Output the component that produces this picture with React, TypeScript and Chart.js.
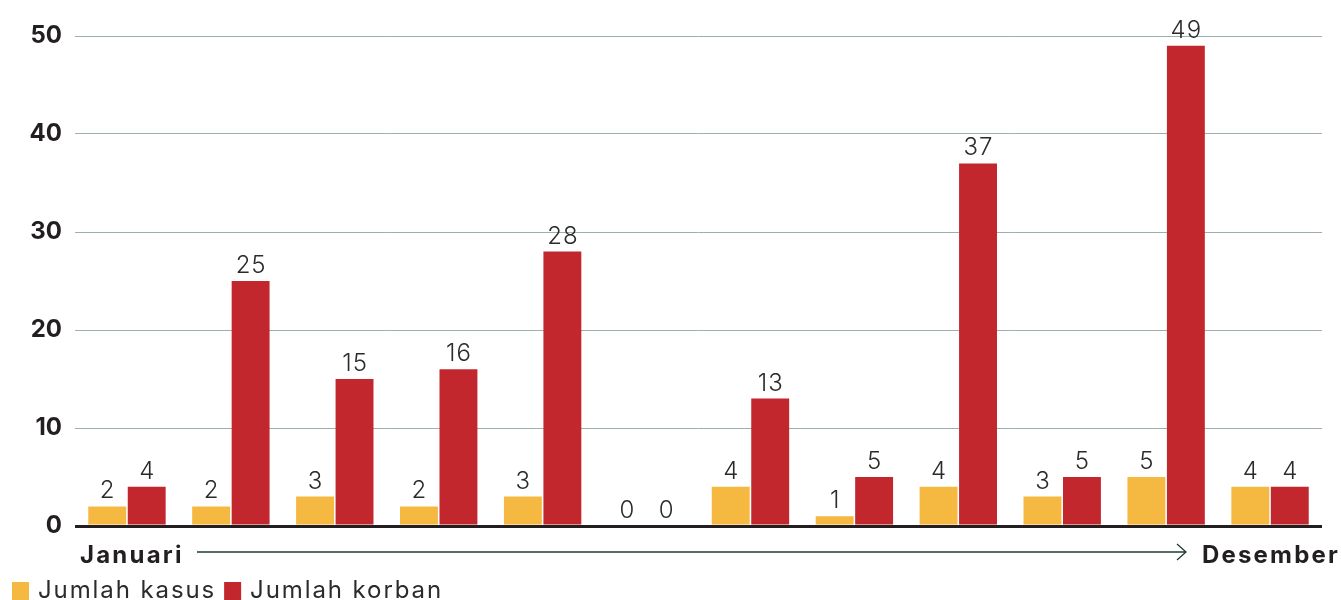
import React, { useEffect, useRef } from "react";
import { Chart, registerables } from "chart.js";

Chart.register(...registerables);

const months = ["Jan", "Feb", "Mar", "Apr", "Mei", "Jun", "Jul", "Agu", "Sep", "Okt", "Nov", "Des"];
const jumlahKasus = [2, 2, 3, 2, 3, 0, 4, 1, 4, 3, 5, 4];
const jumlahKorban = [4, 25, 15, 16, 28, 0, 13, 5, 37, 5, 49, 4];
const yTicks = [0, 10, 20, 30, 40, 50];
const startLabel = "Januari";
const endLabel = "Desember";
const seriesLabels = ["Jumlah kasus", "Jumlah korban"];

const YELLOW = "#F5B942";
const RED = "#C1272D";
const TEXT = "#231F20";
const FONT = "Inter, 'Open Sans', sans-serif";

const overlayPlugin = {
  id: "overlay",
  afterDatasetsDraw(chart: any) {
    const ctx = chart.ctx as any;
    ctx.save();
    // value labels
    ctx.letterSpacing = "1px";
    ctx.font = `300 24px ${FONT}`;
    ctx.fillStyle = "#2b2b2b";
    ctx.textAlign = "center";
    ctx.textBaseline = "alphabetic";
    chart.data.datasets.forEach((ds: any, di: number) => {
      const meta = chart.getDatasetMeta(di);
      meta.data.forEach((el: any, i: number) => {
        ctx.fillText(String(ds.data[i]), el.x + 0.5, el.y - 8);
      });
    });

    // bottom axis labels and arrow
    ctx.letterSpacing = "2.2px";
    ctx.font = `700 24px ${FONT}`;
    ctx.fillStyle = TEXT;
    ctx.textAlign = "left";
    ctx.fillText(startLabel, 80, 563);
    ctx.textAlign = "right";
    ctx.fillText(endLabel, 1340, 563);

    const ax0 = 197;
    const ax1 = 1186;
    const ay = 552;
    ctx.letterSpacing = "0px";
    ctx.strokeStyle = "#1D3A30";
    ctx.lineWidth = 1.3;
    ctx.beginPath();
    ctx.moveTo(ax0, ay);
    ctx.lineTo(ax1, ay);
    ctx.stroke();
    ctx.beginPath();
    ctx.moveTo(ax1 - 9, ay - 8);
    ctx.lineTo(ax1, ay);
    ctx.lineTo(ax1 - 9, ay + 8);
    ctx.stroke();

    // legend
    ctx.letterSpacing = "1.9px";
    ctx.font = `400 24px ${FONT}`;
    ctx.textAlign = "left";
    let x = 12;
    chart.data.datasets.forEach((ds: any) => {
      ctx.fillStyle = ds.backgroundColor;
      ctx.fillRect(x, 582, 17, 20);
      x += 17 + 9;
      ctx.fillStyle = "#2b2b2b";
      ctx.fillText(ds.label, x, 598);
      x += ctx.measureText(ds.label).width + 8;
    });
    ctx.restore();
  },
};

export default function App() {
  const ref = useRef<HTMLCanvasElement | null>(null);
  useEffect(() => {
    document.body.style.margin = "0";
    if (!ref.current) return;
    const chart = new Chart(ref.current, {
      type: "bar",
      data: {
        labels: months,
        datasets: [
          { label: seriesLabels[0], data: jumlahKasus, backgroundColor: YELLOW },
          { label: seriesLabels[1], data: jumlahKorban, backgroundColor: RED },
        ],
      },
      options: {
        responsive: false,
        animation: false,
        devicePixelRatio: 1,
        layout: { padding: { top: 36, right: 19, bottom: 74, left: 0 } },
        datasets: {
          bar: { categoryPercentage: 0.76, barPercentage: 0.96 },
        },
        plugins: {
          legend: { display: false },
          tooltip: { enabled: false },
        },
        scales: {
          x: {
            display: false,
            grid: { display: false },
          },
          y: {
            min: 0,
            max: 50,
            afterFit: (scale: any) => {
              scale.width = 75;
            },
            afterBuildTicks: (scale: any) => {
              scale.ticks = yTicks.map((v) => ({ value: v }));
            },
            border: { display: false },
            grid: {
              drawTicks: false,
              color: (c: any) => (c.tick && c.tick.value === 0 ? TEXT : "#9DB0A9"),
              lineWidth: (c: any) => (c.tick && c.tick.value === 0 ? 3 : 1),
            },
            ticks: {
              padding: 13,
              color: TEXT,
              font: { family: FONT, size: 24, weight: "bold" },
            },
          },
        },
      },
      plugins: [overlayPlugin],
    });
    return () => chart.destroy();
  }, []);
  return (
    <div style={{ width: 1341, height: 600 }}>
      <canvas ref={ref} width={1341} height={600} style={{ display: "block" }} />
    </div>
  );
}
